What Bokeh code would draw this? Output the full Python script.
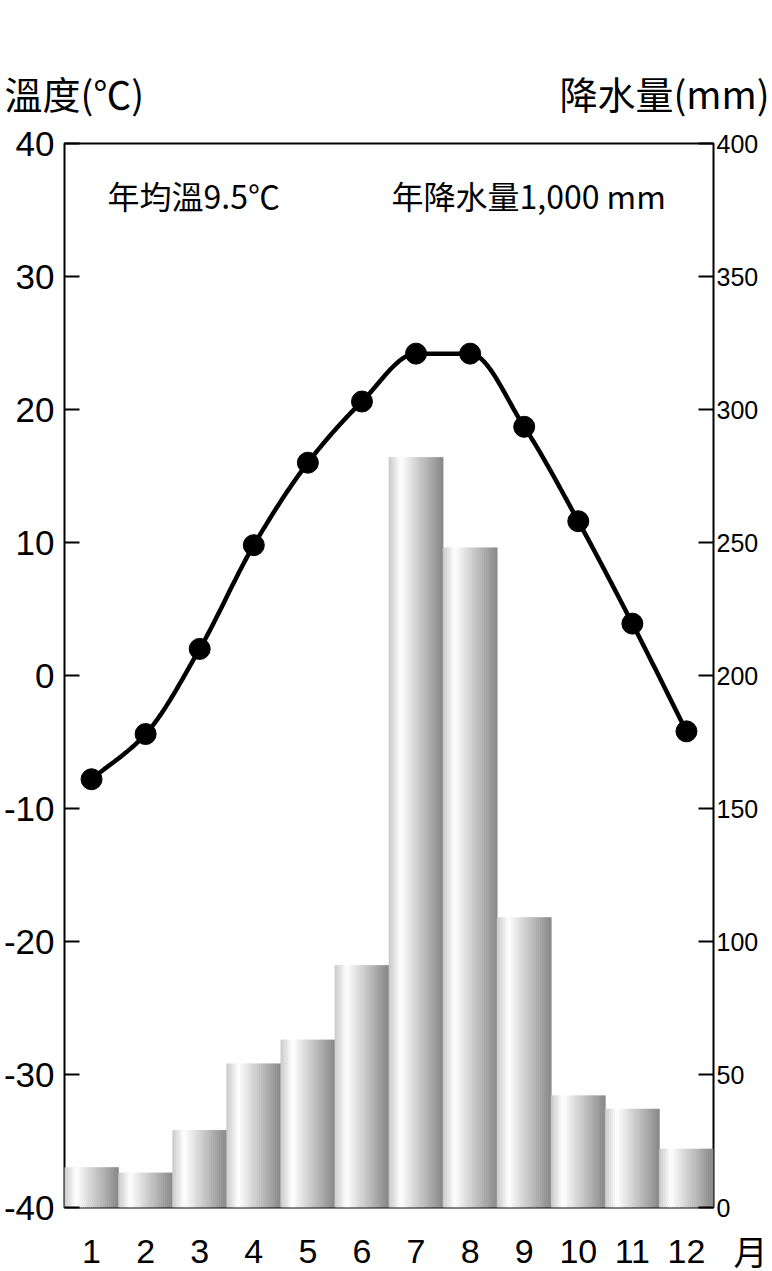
import numpy as np
from bokeh.plotting import figure
from bokeh.layouts import column
from bokeh.models import Range1d, LinearAxis, Label, ColumnDataSource, FixedTicker
from bokeh.core.properties import value
from bokeh.embed import file_html
from bokeh.resources import INLINE

# ---- data ----
months = list(range(1, 13))
month_labels = ["1", "2", "3", "4", "5", "6", "7", "8", "9", "10", "11", "12"]
temperature = [-7.8, -4.4, 2.0, 9.8, 16.0, 20.6, 24.2, 24.2, 18.7, 11.6, 3.9, -4.2]
precipitation = [15, 13, 29, 54, 63, 91, 282, 248, 109, 42, 37, 22]
temp_ticks = [-40, -30, -20, -10, 0, 10, 20, 30, 40]
precip_ticks = [0, 50, 100, 150, 200, 250, 300, 350, 400]
temp_title = "溫度(℃)"
precip_title = "降水量(mm)"
month_unit = "月"
note_temp = "年均溫9.5℃"
note_precip = "年降水量1,000 mm"

CJK = "Noto Sans CJK TC"
NUM = "Liberation Sans"

W = 772
TOP_H = 120
FRAME_L, FRAME_R = 64, 59
FRAME_H = 1064
MAIN_TOP, MAIN_BOTTOM = 23, 22
MAIN_H = MAIN_TOP + FRAME_H + MAIN_BOTTOM
OVERLAP = 20
BOT_TOP = TOP_H + MAIN_H - OVERLAP          # page y where bottom strip starts
BOT_H = 1271 - BOT_TOP

X0, X1 = 0.5, 12.5

def bare(fig, transparent=False):
    fig.xgrid.visible = False
    fig.ygrid.visible = False
    fig.outline_line_color = None
    fig.background_fill_color = None if transparent else "white"
    fig.border_fill_color = None if transparent else "white"
    fig.xaxis.visible = False
    fig.yaxis.visible = False
    try:
        fig.frame_align = False
    except Exception:
        pass

# ---------- top strip with the axis titles ----------
top = figure(width=W, height=TOP_H, x_range=Range1d(0, W), y_range=Range1d(0, TOP_H),
             output_backend="svg", toolbar_location=None,
             min_border_left=0, min_border_right=0, min_border_top=0, min_border_bottom=0)
bare(top)
top.text(x=[4], y=[28], text=[temp_title], text_font=value(CJK), text_font_size="38px",
         text_baseline="middle", text_align="left", text_color="black")
top.text(x=[769], y=[28], text=[precip_title], text_font=value(CJK), text_font_size="38px",
         text_baseline="middle", text_align="right", text_color="black")

# ---------- main chart ----------
p = figure(width=W, height=MAIN_H, x_range=Range1d(X0, X1), y_range=Range1d(-40, 40),
           output_backend="svg", toolbar_location=None,
           min_border_left=FRAME_L, min_border_right=FRAME_R,
           min_border_top=MAIN_TOP, min_border_bottom=MAIN_BOTTOM)
p.extra_y_ranges = {"precip": Range1d(0, 400)}
p.xgrid.visible = False
p.ygrid.visible = False
p.outline_line_color = "black"
p.outline_line_width = 2
p.background_fill_color = "white"
p.border_fill_color = "white"
p.xaxis.visible = False

ya = p.yaxis[0]
ya.ticker = FixedTicker(ticks=temp_ticks)
ya.major_label_overrides = {t: str(t) for t in temp_ticks}
ya.major_tick_in = 15
ya.major_tick_out = 0
ya.minor_tick_line_color = None
ya.major_tick_line_width = 2
ya.major_tick_line_color = "black"
ya.axis_line_color = None
ya.major_label_standoff = 10
ya.major_label_text_font = NUM
ya.major_label_text_font_size = "35px"
ya.major_label_text_color = "black"

ra = LinearAxis(y_range_name="precip", ticker=FixedTicker(ticks=precip_ticks))
ra.major_tick_in = 15
ra.major_tick_out = 0
ra.minor_tick_line_color = None
ra.major_tick_line_width = 2
ra.major_tick_line_color = "black"
ra.axis_line_color = None
ra.major_label_standoff = 3
ra.major_label_text_font = NUM
ra.major_label_text_font_size = "25px"
ra.major_label_text_color = "black"
p.add_layout(ra, "right")

# bars with horizontal gradient drawn as thin strips
N = 27
def shade(t):
    if t < 0.22:
        g = 200 + (255 - 200) * (t / 0.22)
    else:
        g = 255 - (255 - 134) * ((t - 0.22) / 0.78)
    g = int(round(g))
    return "#%02x%02x%02x" % (g, g, g)

lefts, rights, tops, colors = [], [], [], []
for m, v in zip(months, precipitation):
    for k in range(N):
        t0, t1 = k / N, (k + 1) / N
        lefts.append(m - 0.5 + t0)
        rights.append(m - 0.5 + t1)
        tops.append(v)
        colors.append(shade((t0 + t1) / 2))
bars = ColumnDataSource(dict(left=lefts, right=rights, top=tops, color=colors))
p.quad(left="left", right="right", top="top", bottom=0, fill_color="color", line_color="color",
       line_width=0.6, source=bars, y_range_name="precip")

# smooth temperature line (monotone cubic through the points)
def pchip(x, y, xs):
    x = np.asarray(x, float); y = np.asarray(y, float)
    h = np.diff(x); d = np.diff(y) / h
    n = len(x); m = np.zeros(n)
    for i in range(1, n - 1):
        if d[i - 1] * d[i] <= 0:
            m[i] = 0
        else:
            w1 = 2 * h[i] + h[i - 1]; w2 = h[i] + 2 * h[i - 1]
            m[i] = (w1 + w2) / (w1 / d[i - 1] + w2 / d[i])
    m[0] = d[0]; m[-1] = d[-1]
    out = []
    for xv in xs:
        i = min(max(np.searchsorted(x, xv) - 1, 0), n - 2)
        t = (xv - x[i]) / h[i]
        h00 = 2 * t**3 - 3 * t**2 + 1; h10 = t**3 - 2 * t**2 + t
        h01 = -2 * t**3 + 3 * t**2; h11 = t**3 - t**2
        out.append(h00 * y[i] + h10 * h[i] * m[i] + h01 * y[i + 1] + h11 * h[i] * m[i + 1])
    return out

xs = np.linspace(months[0], months[-1], 400)
p.line(xs, pchip(months, temperature, xs), line_width=4.5, line_color="black")
p.scatter(months, temperature, size=21, fill_color="black", line_color="black")

p.add_layout(Label(x=43, y=1013, x_units="screen", y_units="screen", text=note_temp,
                   text_font=CJK, text_font_size="32px", text_baseline="middle", text_color="black"))
p.add_layout(Label(x=327, y=1013, x_units="screen", y_units="screen", text=note_precip,
                   text_font=CJK, text_font_size="32px", text_baseline="middle", text_color="black"))

# ---------- bottom strip with month labels (transparent, slightly overlapping) ----------
unit = (W - FRAME_L - FRAME_R) / (X1 - X0)
bx0 = X0 - FRAME_L / unit
bx1 = X1 + FRAME_R / unit
bot = figure(width=W, height=BOT_H, x_range=Range1d(bx0, bx1), y_range=Range1d(0, BOT_H),
             output_backend="svg", toolbar_location=None,
             min_border_left=0, min_border_right=0, min_border_top=0, min_border_bottom=0)
bare(bot, transparent=True)
bot.margin = (-OVERLAP, 0, 0, 0)
ymid = BOT_H - (1251 - BOT_TOP)
bot.text(x=months, y=[ymid] * len(months), text=month_labels, text_font=value(NUM),
         text_font_size="34px", text_align="center", text_baseline="middle", text_color="black")
bot.text(x=[bx1 - 5 / unit], y=[ymid + 1], text=[month_unit], text_font=value(CJK),
         text_font_size="34px", text_align="right", text_baseline="middle", text_color="black")

layout = column(top, p, bot, spacing=0)
open("out.html", "w").write(file_html(layout, INLINE))
